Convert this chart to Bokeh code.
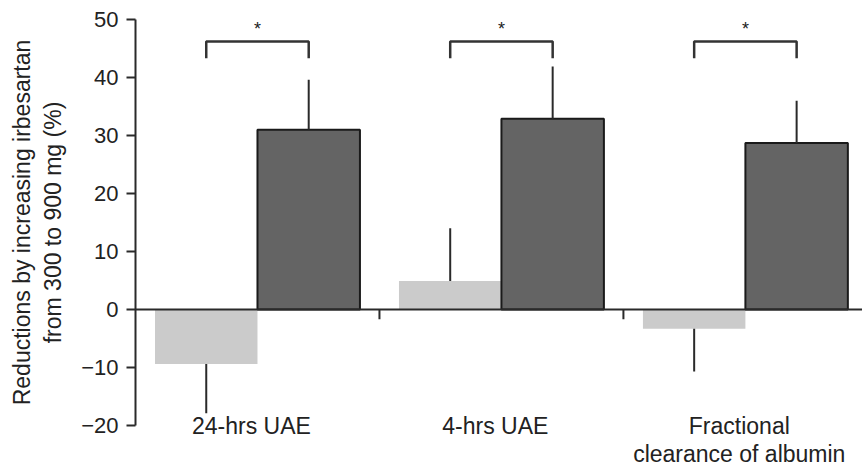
from bokeh.plotting import figure
from bokeh.models import Range1d, FixedTicker, Span
from bokeh.embed import file_html
from bokeh.resources import INLINE
from bokeh.core.properties import value

# ---- data ----
categories = ["24-hrs UAE", "4-hrs UAE", "Fractional\nclearance of albumin"]
low_dose_change = [-9.4, 4.9, -3.3]      # light grey bars
low_dose_sem = [8.5, 9.1, 7.4]
high_dose_change = [31.0, 32.9, 28.7]    # dark grey bars
high_dose_sem = [8.6, 9.0, 7.3]
sig_marks = ["*", "*", "*"]
y_ticks = [-20, -10, 0, 10, 20, 30, 40, 50]
y_tick_labels = ["\u221220", "\u221210", "0", "10", "20", "30", "40", "50"]

# ---- styling constants ----
FONT = "Liberation Sans"
TXT = "#222222"
LINE = "#2a2a2a"
BAR_W = 0.42
BRACKET_Y = 46.2
BRACKET_DROP = 2.9
LABEL_SHIFT = -0.025

groups = list(range(len(categories)))
light_x = [g - BAR_W / 2 for g in groups]
dark_x = [g + BAR_W / 2 for g in groups]

p = figure(width=862, height=470,
           x_range=Range1d(-0.5, 2.48), y_range=Range1d(-20, 50),
           output_backend="svg", toolbar_location=None,
           min_border_left=135, min_border_right=0,
           min_border_top=19, min_border_bottom=44)
p.outline_line_color = None
p.grid.visible = False
p.background_fill_color = "white"
p.border_fill_color = "white"

# y axis
ya = p.yaxis[0]
ya.ticker = FixedTicker(ticks=y_ticks)
ya.major_label_overrides = {t: l for t, l in zip(y_ticks, y_tick_labels)}
ya.bounds = (-20, 50)
ya.axis_line_width = 2
ya.axis_line_color = LINE
ya.major_tick_line_width = 2
ya.major_tick_line_color = LINE
ya.major_tick_out = 9
ya.major_tick_in = 0
ya.minor_tick_line_color = None
ya.major_label_standoff = 8
ya.major_label_text_font = FONT
ya.major_label_text_font_size = "22px"
ya.major_label_text_color = TXT
ya.axis_label = "Reductions by increasing irbesartan\nfrom 300 to 900 mg (%)"
ya.axis_label_text_font = FONT
ya.axis_label_text_font_size = "23px"
ya.axis_label_text_font_style = "normal"
ya.axis_label_text_color = TXT
ya.axis_label_standoff = 12

# x axis: only category labels under the plot
label_pos = [g + LABEL_SHIFT for g in groups]
xa = p.xaxis[0]
xa.ticker = FixedTicker(ticks=label_pos)
xa.major_label_overrides = {x: c for x, c in zip(label_pos, categories)}
xa.axis_line_color = None
xa.major_tick_line_color = None
xa.minor_tick_line_color = None
xa.major_tick_out = 0
xa.major_tick_in = 0
xa.major_label_standoff = -13
xa.major_label_text_font = FONT
xa.major_label_text_font_size = "23px"
xa.major_label_text_color = TXT
xa.major_label_text_line_height = 1.1

# bars
p.vbar(x=light_x, top=low_dose_change, bottom=0, width=BAR_W,
       fill_color="#cbcbcb", line_color=None)
p.vbar(x=dark_x, top=high_dose_change, bottom=0, width=BAR_W,
       fill_color="#646464", line_color="#1a1a1a", line_width=2)

# error bars (one-sided, away from zero)
light_end = [v + (s if v >= 0 else -s) for v, s in zip(low_dose_change, low_dose_sem)]
dark_end = [v + s for v, s in zip(high_dose_change, high_dose_sem)]
p.segment(x0=light_x, y0=low_dose_change, x1=light_x, y1=light_end,
          line_color=LINE, line_width=2)
p.segment(x0=dark_x, y0=high_dose_change, x1=dark_x, y1=dark_end,
          line_color=LINE, line_width=2)

# zero line
p.add_layout(Span(location=0, dimension="width", line_color=LINE, line_width=2))

# group separator ticks below zero line
sep_x = [g + 0.5 for g in groups[:-1]]
p.segment(x0=sep_x, y0=[0] * len(sep_x), x1=sep_x, y1=[-1.7] * len(sep_x),
          line_color=LINE, line_width=2)

# significance brackets
xs = [[lx, lx, dx, dx] for lx, dx in zip(light_x, dark_x)]
ys = [[BRACKET_Y - BRACKET_DROP, BRACKET_Y, BRACKET_Y, BRACKET_Y - BRACKET_DROP]
      for _ in groups]
p.multi_line(xs=xs, ys=ys, line_color="#333333", line_width=2.5)
p.text(x=groups, y=[BRACKET_Y + 2.1] * len(groups), text=sig_marks,
       text_align="center", text_baseline="alphabetic",
       text_font=value(FONT), text_font_size="18px", text_color=TXT)

open("out.html", "w").write(file_html(p, INLINE))
